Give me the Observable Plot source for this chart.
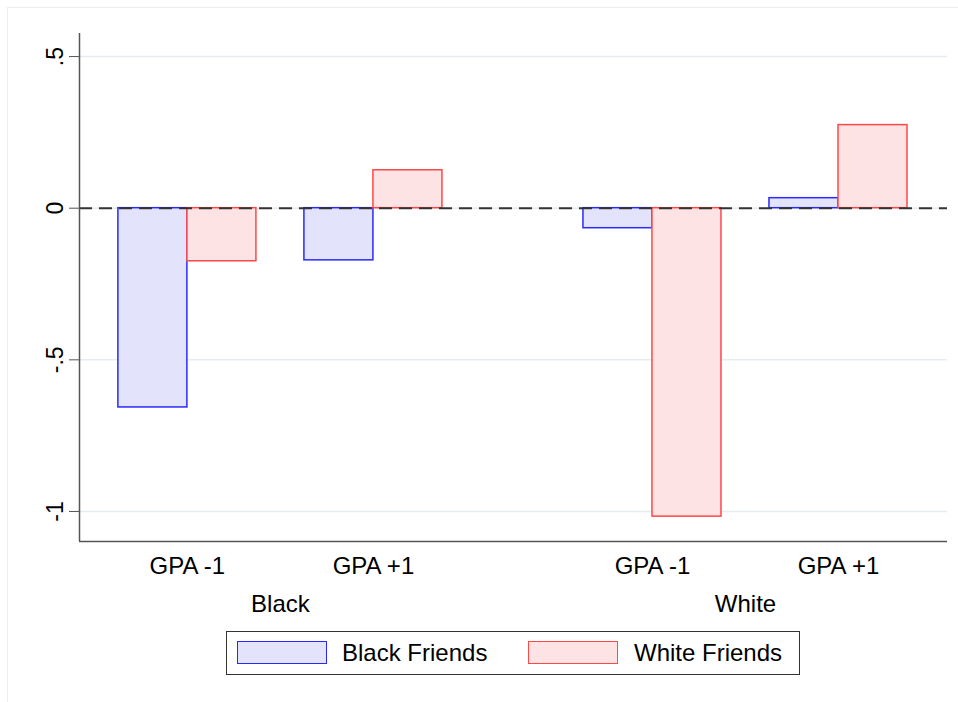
<!DOCTYPE html>
<html>
<head>
<meta charset="utf-8">
<script src="https://cdn.jsdelivr.net/npm/d3@7"></script>
<script src="https://cdn.jsdelivr.net/npm/@observablehq/plot@0.6"></script>
<style>
  html, body { margin: 0; padding: 0; background: #fff; }
  #wrap { position: relative; width: 958px; height: 702px; overflow: hidden; font-family: "Liberation Sans", Arial, sans-serif; }
  #frame { position: absolute; left: 7px; top: 7px; width: 960px; height: 700px; border: 1.5px solid #e9eef0; box-sizing: border-box; }
  #chart { position: absolute; left: 0; top: 0; }
  #legend { position: absolute; left: 226px; top: 631px; width: 574px; height: 44px; border: 1.5px solid #333; box-sizing: border-box; background: #fff; }
  .sw { position: absolute; top: 9px; width: 90px; height: 23px; box-sizing: border-box; }
  .lt { position: absolute; top: 7px; font-size: 24px; color: #000; line-height: 28px; white-space: nowrap; }
</style>
</head>
<body>
<div id="wrap">
  <div id="frame"></div>
  <div id="chart"></div>
  <div id="legend"></div>
</div>
<script>
// ---- data ----
const groups = ["Black", "White"];
const gpaLabels = ["GPA -1", "GPA +1"];
const series = ["Black Friends", "White Friends"];
const blackFriends = [-0.657, -0.172, -0.066, 0.033];
const whiteFriends = [-0.175, 0.125, -1.017, 0.274];
const yTicks = [-1, -0.5, 0, 0.5];

const seriesValues = [blackFriends, whiteFriends];
const fills = ["#e3e3fb", "#fde3e3"];
const strokes = ["#2a2aff", "#ff4848"];

// layout: slot positions for each group/GPA level
const slot = (gi, ci) => gi * 2.5 + ci;
const half = 0.371;

const rows = [];
groups.forEach((g, gi) => {
  gpaLabels.forEach((c, ci) => {
    series.forEach((s, si) => {
      const p = slot(gi, ci);
      rows.push({
        group: g, gpa: c, series: s, si,
        x1: si === 0 ? p - half : p,
        x2: si === 0 ? p : p + half,
        value: seriesValues[si][gi * gpaLabels.length + ci]
      });
    });
  });
});

const tickPos = [];
const tickLab = [];
groups.forEach((g, gi) => gpaLabels.forEach((c, ci) => { tickPos.push(slot(gi, ci)); tickLab.push(c); }));
const groupRows = groups.map((g, gi) => ({ g, x: slot(gi, 0) + 0.5 }));

const xDom = [-0.58, 4.086];
const yDom = [-1.099, 0.576];

const fmtY = d => d === 0 ? "0" : String(d).replace("0.", ".");

const chart = Plot.plot({
  width: 958,
  height: 625,
  marginLeft: 79,
  marginRight: 11,
  marginTop: 33,
  marginBottom: 84,
  x: { type: "linear", domain: xDom },
  y: { domain: yDom },
  style: { fontFamily: "Liberation Sans, Arial, sans-serif", fontSize: "24px", color: "#000", background: "transparent" },
  marks: [
    Plot.gridY(yTicks, { stroke: "#e6edf0", strokeOpacity: 1, strokeWidth: 1.5 }),
    Plot.rectY(rows, {
      x1: "x1", x2: "x2", y1: 0, y2: "value",
      fill: d => fills[d.si], stroke: d => strokes[d.si], strokeWidth: 1.5, insetLeft: 0, insetRight: 0
    }),
    Plot.ruleY([0], { stroke: "#333", strokeWidth: 2, strokeDasharray: "13,7" }),
    Plot.ruleX([xDom[0]], { stroke: "#555", strokeWidth: 1.5 }),
    Plot.ruleY([yDom[0]], { stroke: "#555", strokeWidth: 1.5 }),
    Plot.axisY(yTicks, { tickFormat: fmtY, tickSize: 10, tickRotate: -90, tickPadding: 7, label: null, stroke: "#555", fontSize: 23 }),
    Plot.axisX(tickPos, { tickFormat: (d, i) => tickLab[i], tickSize: 0, tickPadding: 15, label: null, fontSize: 24 }),
    Plot.text(groupRows, { x: "x", text: "g", frameAnchor: "bottom", dy: 70, fontSize: 24, fill: "#000" })
  ]
});
document.getElementById("chart").appendChild(chart);

// legend
const leg = document.getElementById("legend");
const legX = [[10, 115], [301, 407]];
series.forEach((s, si) => {
  const sw = document.createElement("div");
  sw.className = "sw";
  sw.style.left = legX[si][0] + "px";
  sw.style.background = fills[si];
  sw.style.border = "1.5px solid " + strokes[si];
  leg.appendChild(sw);
  const t = document.createElement("div");
  t.className = "lt";
  t.style.left = legX[si][1] + "px";
  t.textContent = s;
  leg.appendChild(t);
});
</script>
</body>
</html>
